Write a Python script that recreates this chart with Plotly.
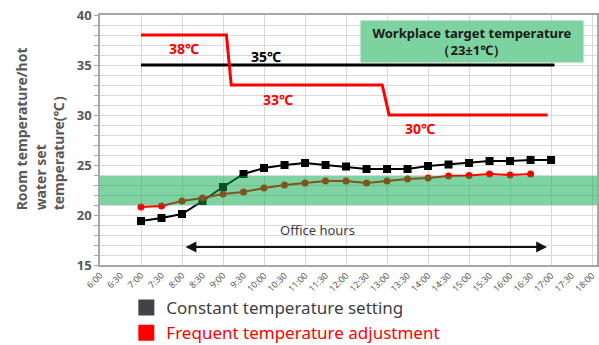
import plotly.graph_objects as go

# Half-hour time axis labels
time_labels = ["6:00", "6:30", "7:00", "7:30", "8:00", "8:30", "9:00", "9:30",
               "10:00", "10:30", "11:00", "11:30", "12:00", "12:30", "13:00",
               "13:30", "14:00", "14:30", "15:00", "15:30", "16:00", "16:30",
               "17:00", "17:30", "18:00"]

# Measured room temperature, every 30 minutes
const_times = ["7:00", "7:30", "8:00", "8:30", "9:00", "9:30", "10:00", "10:30",
               "11:00", "11:30", "12:00", "12:30", "13:00", "13:30", "14:00",
               "14:30", "15:00", "15:30", "16:00", "16:30", "17:00"]
const_room = [19.4, 19.7, 20.1, 21.4, 22.8, 24.1, 24.7, 25.0, 25.2, 25.0, 24.85,
              24.6, 24.6, 24.6, 24.9, 25.05, 25.2, 25.4, 25.4, 25.5, 25.5]

freq_times = ["7:00", "7:30", "8:00", "8:30", "9:00", "9:30", "10:00", "10:30",
              "11:00", "11:30", "12:00", "12:30", "13:00", "13:30", "14:00",
              "14:30", "15:00", "15:30", "16:00", "16:30"]
freq_room = [20.8, 20.9, 21.4, 21.7, 22.1, 22.3, 22.7, 23.0, 23.2, 23.4, 23.4,
             23.2, 23.4, 23.6, 23.7, 23.9, 23.95, 24.1, 24.0, 24.1]

# Hot water set temperature
const_set_times = ["7:00", "17:05"]
const_set_temp = [35, 35]
freq_set_times = ["7:00", "9:05", "9:12", "12:53", "13:03", "16:55"]
freq_set_temp = [38, 38, 33, 33, 30, 30]

# Workplace target band
band_low, band_high = 21.0, 23.9


def to_hours(label):
    h, m = label.split(":")
    return int(h) + int(m) / 60


tick_vals = [to_hours(t) for t in time_labels]

GRAY = "#595959"
GRID = "#d9d9d9"
FONT = "Noto Sans"

fig = go.Figure()

fig.add_trace(go.Scatter(
    x=[to_hours(t) for t in const_set_times], y=const_set_temp,
    mode="lines", line=dict(color="black", width=3), showlegend=False))
fig.add_trace(go.Scatter(
    x=[to_hours(t) for t in freq_set_times], y=freq_set_temp,
    mode="lines", line=dict(color="#ff0000", width=3), showlegend=False))

fig.add_trace(go.Scatter(
    x=[to_hours(t) for t in const_times], y=const_room,
    mode="lines+markers", line=dict(color="black", width=2),
    marker=dict(symbol="square", size=8, color="black"), showlegend=False))
fig.add_trace(go.Scatter(
    x=[to_hours(t) for t in freq_times], y=freq_room,
    mode="lines+markers", line=dict(color="#ff0000", width=2),
    marker=dict(symbol="circle", size=7, color="#ff0000"), showlegend=False))

# Legend entries
fig.add_trace(go.Scatter(
    x=[None], y=[None], mode="markers", name="Constant temperature setting",
    marker=dict(symbol="square", size=16, color="#404449"), xaxis="x2"))
fig.add_trace(go.Scatter(
    x=[None], y=[None], mode="markers",
    name="<span style='color:#ff0000'>Frequent temperature adjustment</span>",
    marker=dict(symbol="square", size=16, color="#ff0000"), xaxis="x2"))

# Target band drawn semi-transparent over the lines
fig.add_shape(type="rect", xref="x domain", x0=0, x1=1, yref="y",
              y0=band_low, y1=band_high, layer="above",
              fillcolor="rgba(0,167,70,0.5)", line=dict(width=0))

x_range = [6, 18.12]

fig.update_layout(
    width=599, height=345,
    margin=dict(l=100, r=2, t=15, b=80, autoexpand=False),
    plot_bgcolor="white", paper_bgcolor="white",
    font=dict(family=FONT, color=GRAY),
    xaxis=dict(range=x_range, tickmode="array", tickvals=tick_vals,
               ticktext=time_labels, tickangle=-45, showgrid=False,
               tickfont=dict(size=9, color=GRAY), ticks="",
               showline=True, linecolor="#a6a6a6", linewidth=1.5, mirror=True,
               zeroline=False),
    xaxis2=dict(range=x_range, overlaying="x", dtick=1, tick0=6,
                showgrid=True, gridcolor=GRID, gridwidth=1,
                showticklabels=False, showline=False, zeroline=False),
    yaxis=dict(range=[15, 40], dtick=5, tick0=15, showgrid=True,
               gridcolor=GRID, gridwidth=1,
               tickfont=dict(size=13, color=GRAY, weight="bold"),
               showline=True, linecolor="#a6a6a6", linewidth=1.5, mirror=True,
               ticks="outside", ticklen=4, tickcolor="#a6a6a6",
               minor=dict(dtick=1, showgrid=True, gridcolor=GRID,
                          ticks="outside", ticklen=4, tickcolor="#a6a6a6"),
               zeroline=False),
    legend=dict(x=0.053, y=-0.1, xanchor="left", yanchor="top",
                orientation="v", font=dict(size=17, color="#404040"),
                itemwidth=30, bgcolor="rgba(0,0,0,0)", tracegroupgap=0),
    showlegend=True,
)

annotations = [
    dict(x=8.05, y=36.7, text="38℃", font=dict(size=14, color="#ff0000", weight="bold")),
    dict(x=10.05, y=35.9, text="35℃", font=dict(size=14, color="black", weight="bold")),
    dict(x=10.34, y=31.6, text="33℃", font=dict(size=14, color="#ff0000", weight="bold")),
    dict(x=13.8, y=28.7, text="30℃", font=dict(size=14, color="#ff0000", weight="bold")),
    dict(x=15.07, y=37.4, text="Workplace target temperature<br>（23±1℃）",
         font=dict(size=13, color="#1a1a1a", weight="bold"),
         bgcolor="rgb(125,211,160)", borderpad=3, width=216),
    dict(x=11.3, y=18.5, text="Office hours", font=dict(size=13, color="#404040")),
]
for a in annotations:
    fig.add_annotation(xref="x", yref="y", showarrow=False, **a)

# Office hours double-headed arrow
fig.add_annotation(x=16.9, y=16.8, ax=8.05, ay=16.8, xref="x", yref="y",
                   axref="x", ayref="y", text="", showarrow=True,
                   arrowhead=2, arrowside="end+start", arrowsize=1.2,
                   arrowwidth=1.8, arrowcolor="#111111")

# Rotated, left-aligned axis title
fig.add_annotation(xref="paper", yref="paper", x=-0.121, y=0.212,
                   xanchor="center", yanchor="bottom", textangle=-90,
                   align="left", showarrow=False,
                   text="Room temperature/hot<br>water set<br>temperature(℃）",
                   font=dict(size=14, color=GRAY, weight="bold"))

fig.write_html("out.html")
